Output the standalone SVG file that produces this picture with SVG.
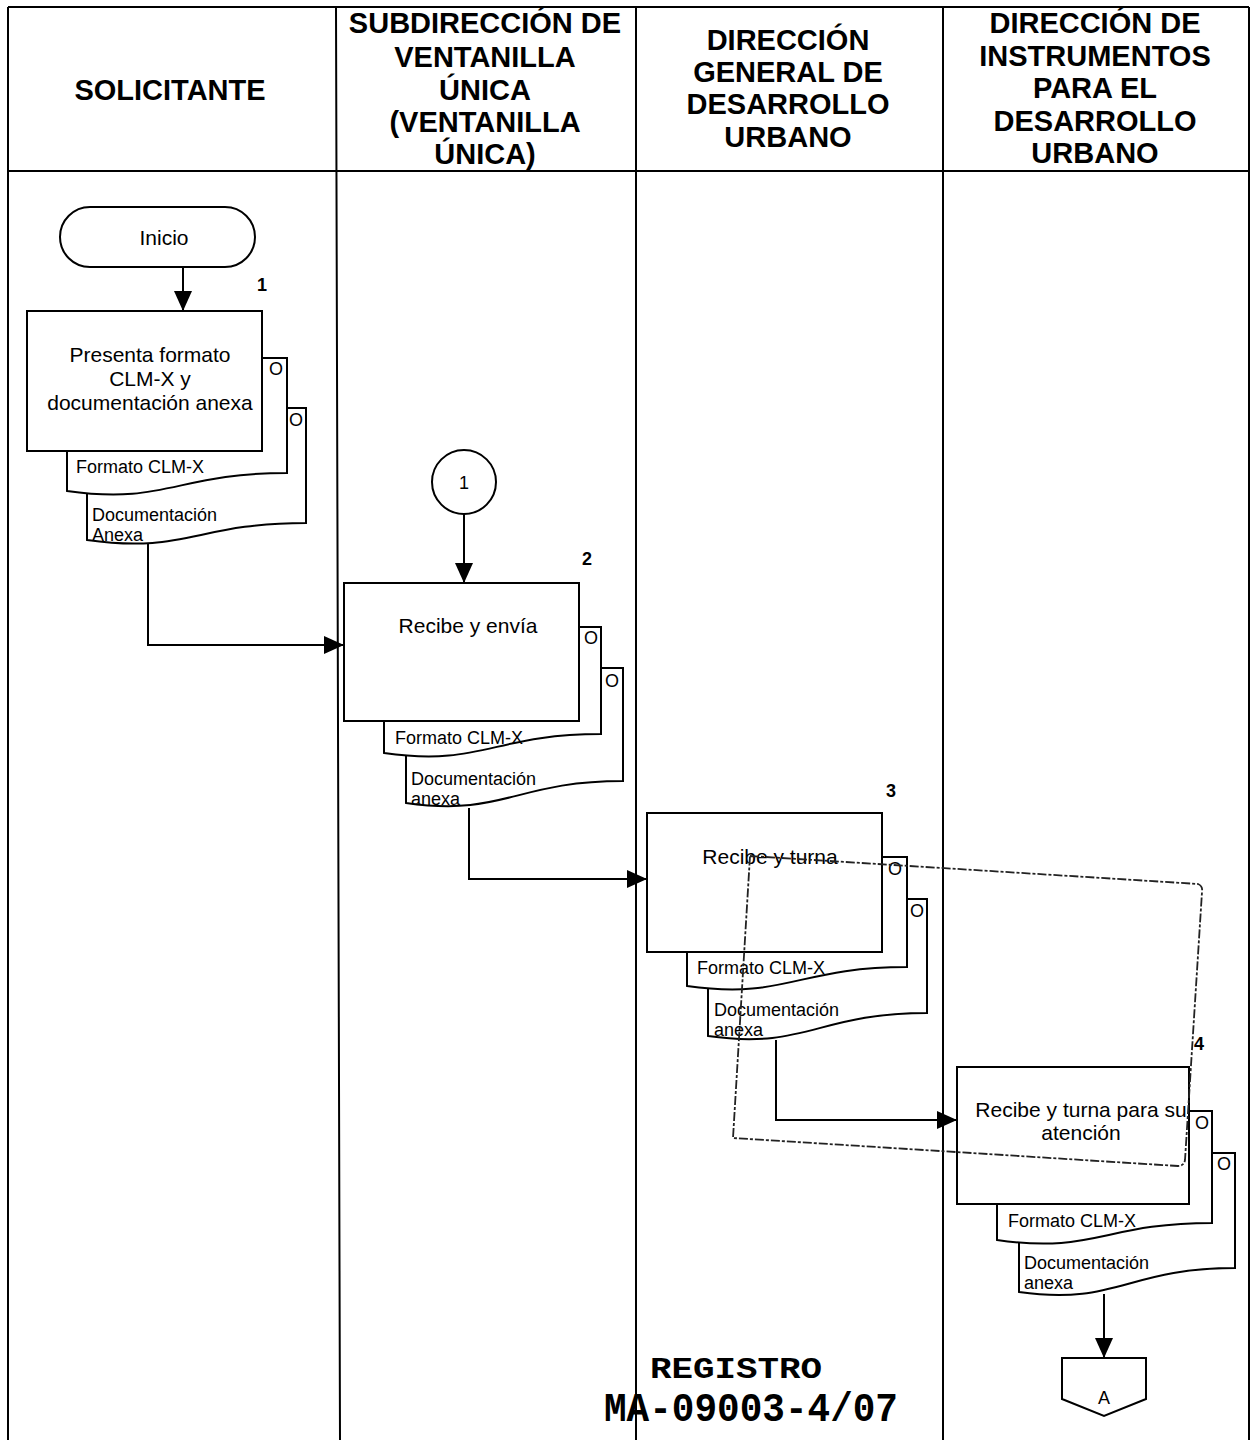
<svg xmlns="http://www.w3.org/2000/svg" width="1251" height="1440" viewBox="0 0 1251 1440">
<style>
.lane{stroke:#000;stroke-width:2;fill:none}
.hdr{font-family:"Liberation Sans",Arial,sans-serif;font-weight:bold;font-size:29px;text-anchor:middle;fill:#000}
.box{fill:#fff;stroke:#000;stroke-width:2}
.doc{fill:#fff;stroke:#000;stroke-width:2}
.t{font-family:"Liberation Sans",Arial,sans-serif;font-size:21px;text-anchor:middle;fill:#000}
.dt{font-family:"Liberation Sans",Arial,sans-serif;font-size:18px;fill:#000}
.o{font-family:"Liberation Sans",Arial,sans-serif;font-size:18px;text-anchor:middle;fill:#000}
.num{font-family:"Liberation Sans",Arial,sans-serif;font-size:18px;font-weight:bold;text-anchor:middle;fill:#000}
.con{stroke:#000;stroke-width:2;fill:none;marker-end:url(#ah)}
.stamp{font-family:"Liberation Mono","DejaVu Sans Mono",monospace;font-weight:bold;fill:#000}
</style>
<defs>
<marker id="ah" viewBox="0 0 20 18" refX="20" refY="9" markerWidth="20" markerHeight="18" markerUnits="userSpaceOnUse" orient="auto">
<path d="M0,0 L20,9 L0,18 Z" fill="#000"/>
</marker>
</defs>
<rect width="1251" height="1440" fill="#fff"/>
<g id="lanes">
<path class="lane" d="M8,7 H1249 M8,7 V1440 M1249,7 V1440 M336,7 L340,1440 M636,7 V1440 M943,7 V1440 M8,171 H1249"/>
<text class="hdr" x="170" y="100">SOLICITANTE</text>
<text class="hdr" x="485" y="33">SUBDIRECCIÓN DE</text>
<text class="hdr" x="485" y="67">VENTANILLA</text>
<text class="hdr" x="485" y="100">ÚNICA</text>
<text class="hdr" x="485" y="132">(VENTANILLA</text>
<text class="hdr" x="485" y="164">ÚNICA)</text>
<text class="hdr" x="788" y="50">DIRECCIÓN</text>
<text class="hdr" x="788" y="82">GENERAL DE</text>
<text class="hdr" x="788" y="114">DESARROLLO</text>
<text class="hdr" x="788" y="147">URBANO</text>
<text class="hdr" x="1095" y="33">DIRECCIÓN DE</text>
<text class="hdr" x="1095" y="66">INSTRUMENTOS</text>
<text class="hdr" x="1095" y="98">PARA EL</text>
<text class="hdr" x="1095" y="131">DESARROLLO</text>
<text class="hdr" x="1095" y="163">URBANO</text>
</g>
<g id="connectors">
<path class="con" d="M183,267 V311"/>
<path class="con" d="M148,543 V645 H344"/>
<path class="con" d="M464,514 V583"/>
<path class="con" d="M469,808 V879 H647"/>
<path class="con" d="M776,1040 V1120 H957"/>
<path class="con" d="M1104,1294 V1358"/>
</g>
<g id="inicio">
<rect class="box" x="60" y="207" width="195" height="60" rx="30"/>
<text class="t" x="164" y="245" font-size="20">Inicio</text>
</g>
<g id="step1">
<path class="doc" d="M87,408 H306 V523 C196,523 186,554 87,540 Z"/>
<text class="o" x="296" y="426">O</text>
<text class="dt" x="92" y="521">Documentación</text>
<text class="dt" x="92" y="541">Anexa</text>
<path class="doc" d="M67,358 H287 V473 C177,473 166,505 67,491 Z"/>
<text class="o" x="276" y="375">O</text>
<text class="dt" x="76" y="473">Formato CLM-X</text>
<rect class="box" x="27" y="311" width="235" height="140"/>
<text class="t" x="150" y="362">Presenta formato</text>
<text class="t" x="150" y="386">CLM-X y</text>
<text class="t" x="150" y="410">documentación anexa</text>
<text class="num" x="262" y="291">1</text>
</g>
<g id="conn1">
<circle class="box" cx="464" cy="482" r="32"/>
<text class="o" x="464" y="489">1</text>
</g>
<g id="step2">
<path class="doc" d="M406,668 H623 V781 C515,781 504,817 406,803 Z"/>
<text class="o" x="612" y="687">O</text>
<text class="dt" x="411" y="785">Documentación</text>
<text class="dt" x="411" y="805">anexa</text>
<path class="doc" d="M384,627 H601 V734 C493,734 482,767 384,753 Z"/>
<text class="o" x="591" y="644">O</text>
<text class="dt" x="395" y="744">Formato CLM-X</text>
<rect class="box" x="344" y="583" width="235" height="138"/>
<text class="t" x="468" y="633">Recibe y envía</text>
<text class="num" x="587" y="565">2</text>
</g>
<g id="step3">
<path class="doc" d="M708,899 H927 V1013 C818,1013 806,1050 708,1036 Z"/>
<text class="o" x="917" y="917">O</text>
<text class="dt" x="714" y="1016">Documentación</text>
<text class="dt" x="714" y="1036">anexa</text>
<path class="doc" d="M687,857 H907 V967 C797,967 786,1000 687,986 Z"/>
<text class="o" x="895" y="875">O</text>
<text class="dt" x="697" y="974">Formato CLM-X</text>
<rect class="box" x="647" y="813" width="235" height="139"/>
<text class="t" x="770" y="864">Recibe y turna</text>
<text class="num" x="891" y="797">3</text>
</g>
<g id="step4">
<path class="doc" d="M1019,1153 H1235 V1268 C1127,1268 1116,1306 1019,1292 Z"/>
<text class="o" x="1224" y="1170">O</text>
<text class="dt" x="1024" y="1269">Documentación</text>
<text class="dt" x="1024" y="1289">anexa</text>
<path class="doc" d="M997,1111 H1212 V1223 C1104,1223 1094,1254 997,1240 Z"/>
<text class="o" x="1202" y="1129">O</text>
<text class="dt" x="1008" y="1227">Formato CLM-X</text>
<rect class="box" x="957" y="1067" width="232" height="137"/>
<text class="t" x="1081" y="1117">Recibe y turna para su</text>
<text class="t" x="1081" y="1140">atención</text>
<text class="num" x="1199" y="1050">4</text>
</g>
<g id="connA">
<path class="box" d="M1062,1358 H1146 V1399 L1104,1416 L1062,1399 Z"/>
<text class="o" x="1104" y="1404" font-size="16">A</text>
</g>
<g id="stamp">
<path d="M750,856 L1198,884 Q1203,886 1202,892 L1185,1160 Q1184,1166 1178,1166 L733,1138 Z" fill="none" stroke="#222" stroke-width="1.8" stroke-dasharray="9 2 3 2" stroke-linejoin="round"/>
<text class="stamp" x="650" y="1378" font-size="30" textLength="172" lengthAdjust="spacingAndGlyphs">REGISTRO</text>
<text class="stamp" x="604" y="1421" font-size="40" textLength="294" lengthAdjust="spacingAndGlyphs">MA-09003-4/07</text>
</g>
</svg>
